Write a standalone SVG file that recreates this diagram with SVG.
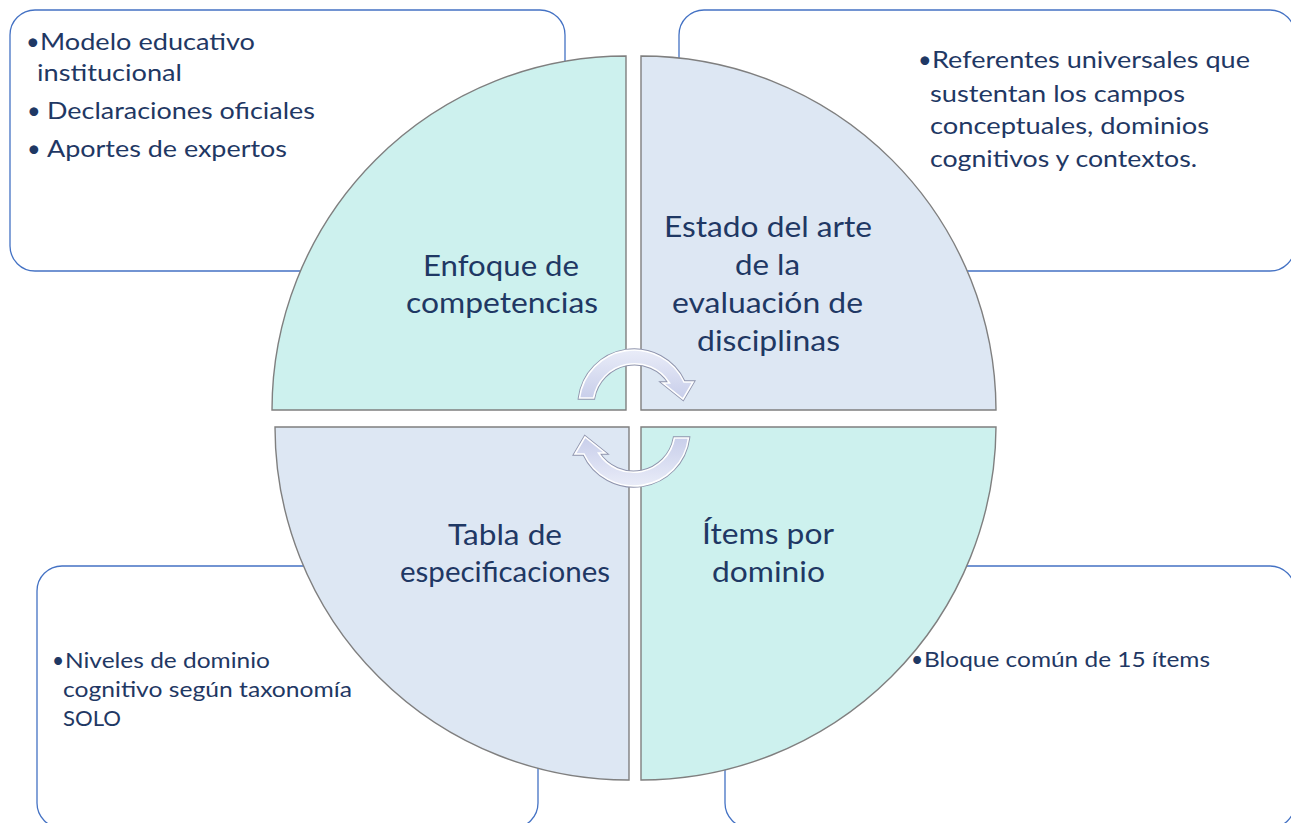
<svg xmlns="http://www.w3.org/2000/svg" width="1291" height="823" viewBox="0 0 1291 823">
<style>
.box{fill:#ffffff;stroke:#4472C4;stroke-width:1.3}
.q{stroke:#7f7f7f;stroke-width:1.4}
.teal{fill:#CDF1EE}
.blue{fill:#DDE7F3}
.t{font-family:Lato,"Liberation Sans",sans-serif;fill:#1F3864}
.c{font-size:29.5px;text-anchor:middle}
.b1{font-size:23.5px}
.b2{font-size:21px}
.arro{fill:none;stroke:#8f94ad;stroke-width:3.4}
.arr{fill:url(#ag);stroke:#ffffff;stroke-width:1.6}
</style>
<defs>
<linearGradient id="ag" x1="0" y1="0" x2="0" y2="1">
<stop offset="0" stop-color="#E9ECF8"/>
<stop offset="1" stop-color="#C8CEEA"/>
</linearGradient>
<path id="carrow" d="M579.5 398 A55 55 0 0 1 684 382 L693 382 L683 399 L663 383 L669.5 383 A41.5 41.5 0 0 0 593.6 398 Z"/>
</defs>
<rect width="1291" height="823" fill="#ffffff"/>

<g id="box-tl">
<rect class="box" x="10" y="10" width="555" height="261" rx="25"/>
<text class="t b1" x="26" y="49.5">•</text>
<text class="t b1" x="40" y="49.5" textLength="215" lengthAdjust="spacingAndGlyphs">Modelo educativo</text>
<text class="t b1" x="37" y="81" textLength="145" lengthAdjust="spacingAndGlyphs">institucional</text>
<text class="t b1" x="27" y="118.5">•</text>
<text class="t b1" x="47" y="118.5" textLength="268" lengthAdjust="spacingAndGlyphs">Declaraciones oficiales</text>
<text class="t b1" x="27" y="156.5">•</text>
<text class="t b1" x="47" y="156.5" textLength="240" lengthAdjust="spacingAndGlyphs">Aportes de expertos</text>
</g>

<g id="box-tr">
<rect class="box" x="679" y="10" width="616" height="261" rx="25"/>
<text class="t b1" x="918" y="68">•</text>
<text class="t b1" x="932" y="68" textLength="318" lengthAdjust="spacingAndGlyphs">Referentes universales que</text>
<text class="t b1" x="930" y="101.5" textLength="255" lengthAdjust="spacingAndGlyphs">sustentan los campos</text>
<text class="t b1" x="930" y="134" textLength="279" lengthAdjust="spacingAndGlyphs">conceptuales, dominios</text>
<text class="t b1" x="930" y="166.5" textLength="267" lengthAdjust="spacingAndGlyphs">cognitivos y contextos.</text>
</g>

<g id="box-bl">
<rect class="box" x="37" y="566" width="501" height="262" rx="25"/>
<text class="t b2" x="52" y="668">•</text>
<text class="t b2" x="65" y="668" textLength="205" lengthAdjust="spacingAndGlyphs">Niveles de dominio</text>
<text class="t b2" x="63" y="697" textLength="289" lengthAdjust="spacingAndGlyphs">cognitivo según taxonomía</text>
<text class="t b2" x="63" y="726" textLength="58" lengthAdjust="spacingAndGlyphs">SOLO</text>
</g>

<g id="box-br">
<rect class="box" x="725" y="566" width="570" height="262" rx="25"/>
<text class="t b2" x="911" y="667">•</text>
<text class="t b2" x="924" y="667" textLength="286" lengthAdjust="spacingAndGlyphs">Bloque común de 15 ítems</text>
</g>

<g id="q-enfoque">
<path class="q teal" d="M626 410 L272 410 A354 354 0 0 1 626 56 Z"/>
<text class="t c" x="501" y="276" textLength="156" lengthAdjust="spacingAndGlyphs">Enfoque de</text>
<text class="t c" x="502" y="313" textLength="192" lengthAdjust="spacingAndGlyphs">competencias</text>
</g>

<g id="q-estado">
<path class="q blue" d="M641 410 L641 56 A355 355 0 0 1 996 410 Z"/>
<text class="t c" x="768" y="237" textLength="208" lengthAdjust="spacingAndGlyphs">Estado del arte</text>
<text class="t c" x="767.5" y="275" textLength="65" lengthAdjust="spacingAndGlyphs">de la</text>
<text class="t c" x="767.5" y="313" textLength="191" lengthAdjust="spacingAndGlyphs">evaluación de</text>
<text class="t c" x="768.5" y="351" textLength="143" lengthAdjust="spacingAndGlyphs">disciplinas</text>
</g>

<g id="q-tabla">
<path class="q blue" d="M629 427 L629 780 A353 353 0 0 1 275 427 Z"/>
<text class="t c" x="505" y="545" textLength="114" lengthAdjust="spacingAndGlyphs">Tabla de</text>
<text class="t c" x="505" y="582" textLength="210" lengthAdjust="spacingAndGlyphs">especificaciones</text>
</g>

<g id="q-items">
<path class="q teal" d="M641 427 L996 427 A355 355 0 0 1 641 780 Z"/>
<text class="t c" x="768" y="544" textLength="132" lengthAdjust="spacingAndGlyphs">Ítems por</text>
<text class="t c" x="768.5" y="582" textLength="113" lengthAdjust="spacingAndGlyphs">dominio</text>
</g>

<g id="connectors">
<use href="#carrow" class="arro"/>
<use href="#carrow" class="arr"/>
<use href="#carrow" class="arro" transform="rotate(180 634 418)"/>
<use href="#carrow" class="arr" transform="rotate(180 634 418)"/>
</g>
</svg>
